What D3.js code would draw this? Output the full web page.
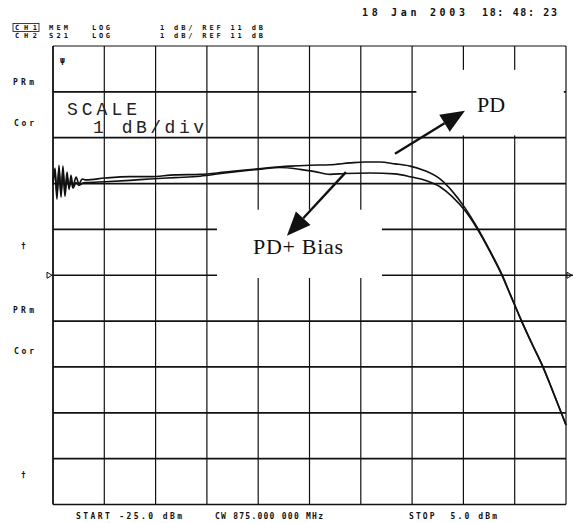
<!DOCTYPE html>
<html>
<head>
<meta charset="utf-8">
<script src="https://cdn.jsdelivr.net/npm/d3@7"></script>
<style>
  body { margin: 0; background: #fff; }
  svg { display: block; }
  .hdr { font-family: "DejaVu Sans Mono", monospace; font-weight: bold; font-size: 7px; fill: #111; }
  .scale { font-family: "Liberation Mono", monospace; font-size: 18px; fill: #222; }
  .note { font-family: "Liberation Serif", "Times New Roman", serif; font-size: 22px; fill: #111; }
</style>
</head>
<body>
<div id="chart"></div>
<script>
// grid: 10 x 10 divisions, REF 11 dB, 1 dB/div, power sweep -25 .. 5 dBm
var gridX = [-25, -22, -19, -16, -13, -10, -7, -4, -1, 2, 5];
var gridY = [6, 7, 8, 9, 10, 11, 12, 13, 14, 15, 16];

// input power (dBm)
var pdPower = [-25.0, -24.88, -24.77, -24.65, -24.53, -24.42, -24.30, -24.18, -24.06, -23.95, -23.83, -23.65, -23.48, -23.30, -23.07,
  -21.96, -20.50, -19.33, -17.87, -16.40, -14.94, -13.01, -11.14, -9.97, -8.80, -7.63, -6.75, -5.88, -5.00, -4.12,
  -3.25, -2.37, -1.67, -0.91, -0.22, 0.56, 1.24, 1.78, 2.41, 3.01, 3.67, 4.18, 4.75, 5.0];
// PD trace, S21 (dB)
var pdGain = [13.05, 13.34, 12.76, 13.29, 12.70, 13.38, 12.82, 13.25, 12.87, 13.18, 12.95, 13.14, 12.99, 13.10, 13.08,
  13.12, 13.15, 13.15, 13.19, 13.20, 13.25, 13.32, 13.38, 13.40, 13.41, 13.45, 13.47, 13.47, 13.43, 13.38,
  13.28, 13.10, 12.84, 12.47, 12.06, 11.53, 11.03, 10.55, 10.00, 9.51, 8.99, 8.52, 7.98, 7.74];

var biasPower = [-25.0, -24.88, -24.77, -24.65, -24.53, -24.42, -24.30, -24.18, -24.06, -23.95, -23.83, -23.65, -23.48, -23.30, -23.07,
  -21.96, -20.50, -19.33, -17.87, -16.40, -14.94, -13.01, -11.73, -10.56, -9.68, -8.80, -7.92, -6.46, -5.00, -4.12,
  -3.15, -2.37, -1.67, -0.91, -0.22, 0.56, 1.24, 1.78, 2.41, 3.01, 3.67, 4.18, 4.75, 5.0];
// PD + Bias trace, S21 (dB)
var biasGain = [12.98, 13.24, 12.66, 13.40, 12.78, 13.27, 12.72, 13.15, 12.92, 13.06, 12.90, 13.02, 12.96, 13.00, 13.02,
  13.04, 13.07, 13.10, 13.13, 13.16, 13.23, 13.31, 13.35, 13.31, 13.26, 13.20, 13.22, 13.23, 13.21, 13.15,
  13.06, 12.93, 12.72, 12.41, 12.03, 11.51, 11.01, 10.54, 9.99, 9.50, 8.98, 8.51, 7.97, 7.73];

var svgWidth = 573;
var svgHeight = 523;

var svg = d3.select("#chart")
  .append("svg")
  .attr("width", svgWidth)
  .attr("height", svgHeight);

var xScale = d3.scaleLinear().domain([-25, 5]).range([53, 566]);
var yScale = d3.scaleLinear().domain([6, 16]).range([504.5, 46]);

// ---- grid
var grid = svg.append("g").attr("stroke", "#111");

grid.selectAll(".vline")
  .data(gridX)
  .enter()
  .append("line")
  .attr("x1", d => xScale(d))
  .attr("x2", d => xScale(d))
  .attr("y1", yScale(16))
  .attr("y2", yScale(6))
  .attr("stroke-width", (d, i) => (i === 0 ? 1.8 : 1.2));

grid.selectAll(".hline")
  .data(gridY)
  .enter()
  .append("line")
  .attr("x1", xScale(-25))
  .attr("x2", d => (d === 11 ? 573 : xScale(5)))
  .attr("y1", d => yScale(d))
  .attr("y2", d => yScale(d))
  .attr("stroke-width", (d, i) => (i === gridY.length - 1 ? 1 : 1.7));

// reference markers on the 11 dB line
svg.append("path")
  .attr("d", `M47,${yScale(11) - 3} L52,${yScale(11)} L47,${yScale(11) + 3} Z`)
  .attr("fill", "none").attr("stroke", "#111").attr("stroke-width", 1);
svg.append("path")
  .attr("d", `M567,${yScale(11) - 3} L572,${yScale(11)} L567,${yScale(11) + 3} Z`)
  .attr("fill", "none").attr("stroke", "#111").attr("stroke-width", 1);

// white label boxes cut the grid
var boxes = [
  { x0: -3.75, x1: 4.87, y0: 15.48, y1: 14.05 },
  { x0: -15.41, x1: -5.76, y0: 12.43, y1: 10.94 }
];
svg.selectAll(".box")
  .data(boxes)
  .enter()
  .append("rect")
  .attr("x", d => xScale(d.x0))
  .attr("y", d => yScale(d.y0))
  .attr("width", d => xScale(d.x1) - xScale(d.x0))
  .attr("height", d => yScale(d.y1) - yScale(d.y0))
  .attr("fill", "#fff");

// ---- traces
var line = d3.line()
  .x(d => xScale(d[0]))
  .y(d => yScale(d[1]))
  .curve(d3.curveMonotoneX);

svg.append("path")
  .datum(d3.zip(biasPower, biasGain))
  .attr("d", line)
  .attr("fill", "none")
  .attr("stroke", "#111")
  .attr("stroke-width", 1.6);

svg.append("path")
  .datum(d3.zip(pdPower, pdGain))
  .attr("d", line)
  .attr("fill", "none")
  .attr("stroke", "#111")
  .attr("stroke-width", 1.6);

// ---- arrows + labels
var arrows = [
  { from: [-5.0, 13.65], to: [-0.91, 14.59] },
  { from: [-7.87, 13.25], to: [-11.32, 11.86] }
];
arrows.forEach(function(a) {
  var x1 = xScale(a.from[0]), y1 = yScale(a.from[1]);
  var x2 = xScale(a.to[0]), y2 = yScale(a.to[1]);
  var ang = Math.atan2(y2 - y1, x2 - x1);
  var len = 24, half = 10;
  var bx = x2 - len * Math.cos(ang), by = y2 - len * Math.sin(ang);
  svg.append("line")
    .attr("x1", x1).attr("y1", y1)
    .attr("x2", bx).attr("y2", by)
    .attr("stroke", "#111").attr("stroke-width", 2.4);
  svg.append("path")
    .attr("d", `M${x2},${y2} L${bx + half * Math.sin(ang)},${by - half * Math.cos(ang)} L${bx - half * Math.sin(ang)},${by + half * Math.cos(ang)} Z`)
    .attr("fill", "#111");
});

svg.append("text").attr("class", "note")
  .attr("x", xScale(-0.2)).attr("y", yScale(14.55))
  .text("PD");
svg.append("text").attr("class", "note")
  .attr("x", xScale(-13.3)).attr("y", yScale(11.47))
  .attr("textLength", 90).attr("lengthAdjust", "spacing")
  .text("PD+ Bias");

// SCALE annotation
svg.append("text").attr("class", "scale")
  .attr("x", 67).attr("y", 115)
  .attr("textLength", 70).attr("lengthAdjust", "spacing")
  .text("SCALE");
svg.append("text").attr("class", "scale")
  .attr("x", 93).attr("y", 133)
  .attr("textLength", 111).attr("lengthAdjust", "spacing")
  .text("1 dB/div");

// ---- instrument header / footer text
var hdrText = [
  { t: "18 Jan 2003", x: 362, y: 16, w: 103, s: 10 },
  { t: "18: 48: 23", x: 482, y: 16, w: 75, s: 10 },
  { t: "CH1", x: 15, y: 30, w: 22 },
  { t: "MEM", x: 49, y: 30, w: 19 },
  { t: "LOG", x: 92, y: 30, w: 18 },
  { t: "1 dB/ REF 11 dB", x: 160, y: 30, w: 103 },
  { t: "CH2", x: 15, y: 37.5, w: 22 },
  { t: "S21", x: 49, y: 37.5, w: 19 },
  { t: "LOG", x: 92, y: 37.5, w: 18 },
  { t: "1 dB/ REF 11 dB", x: 160, y: 37.5, w: 103 },
  { t: "PRm", x: 13, y: 85, w: 21, s: 8 },
  { t: "Cor", x: 14, y: 126, w: 20, s: 8 },
  { t: "†", x: 21, y: 249, s: 8 },
  { t: "PRm", x: 13, y: 313, w: 21, s: 8 },
  { t: "Cor", x: 14, y: 354, w: 20, s: 8 },
  { t: "†", x: 21, y: 478, s: 8 },
  { t: "ψ", x: 60, y: 63, s: 8 },
  { t: "START -25.0 dBm", x: 76, y: 519, w: 106, s: 8 },
  { t: "CW 875.000 000 MHz", x: 215, y: 519, w: 108, s: 8 },
  { t: "STOP  5.0 dBm", x: 409, y: 519, w: 88, s: 8 }
];

svg.selectAll(".hdr")
  .data(hdrText)
  .enter()
  .append("text")
  .attr("class", "hdr")
  .attr("x", d => d.x)
  .attr("y", d => d.y)
  .style("font-size", d => (d.s ? d.s + "px" : null))
  .attr("textLength", d => d.w || null)
  .attr("lengthAdjust", "spacing")
  .style("white-space", "pre")
  .text(d => d.t);

// box around active channel
svg.append("rect")
  .attr("x", 13).attr("y", 23.5)
  .attr("width", 26).attr("height", 8)
  .attr("fill", "none").attr("stroke", "#111").attr("stroke-width", 0.8);
</script>
</body>
</html>
